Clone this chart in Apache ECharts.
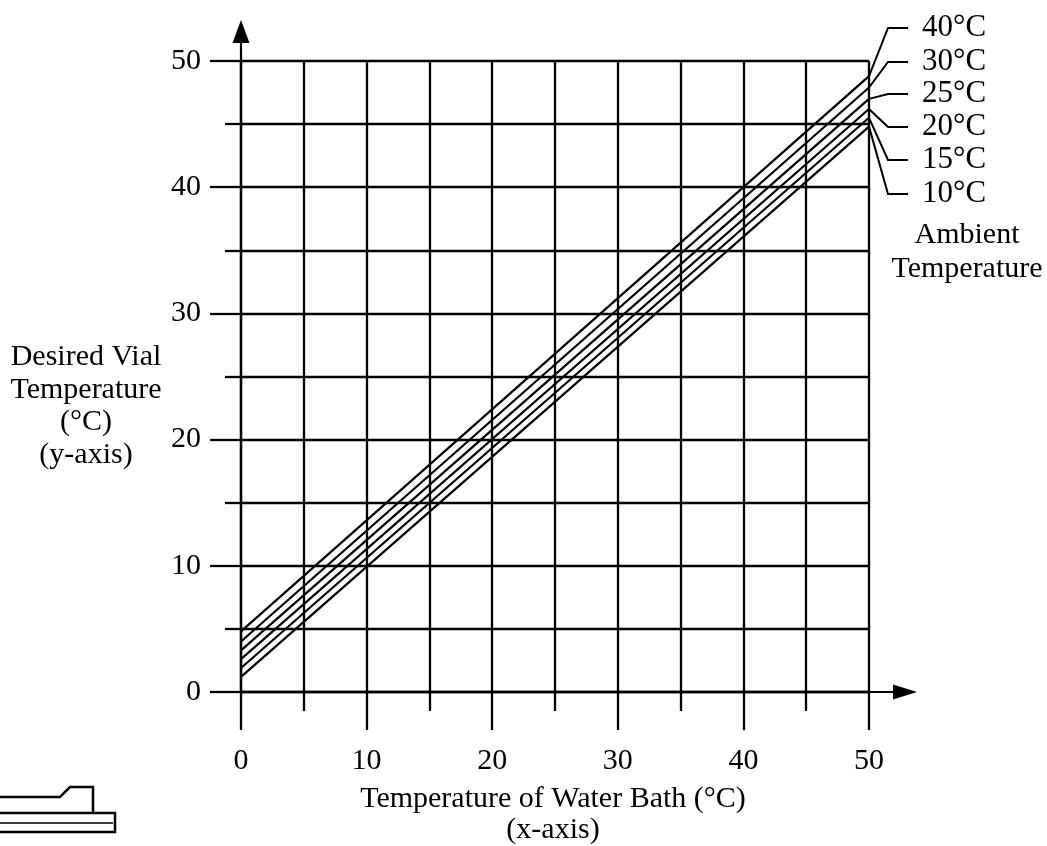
<!DOCTYPE html>
<html>
<head>
<meta charset="utf-8">
<script src="https://cdn.jsdelivr.net/npm/echarts@6/dist/echarts.min.js"></script>
<style>
html,body{margin:0;padding:0;background:#fff;}
#chart{width:1047px;height:846px;}
</style>
</head>
<body>
<div id="chart"></div>
<script>
// Ambient temperatures (series names) and line end values
const ambientLabels = ['40°C', '30°C', '25°C', '20°C', '15°C', '10°C'];
const bathX = [0, 50];
const vialAtBath0 = [4.8, 4.0, 3.3, 2.6, 1.9, 1.2];
const vialAtBath50 = [48.8, 47.9, 47.0, 46.2, 45.5, 44.8];
const xTicks = [0, 10, 20, 30, 40, 50];
const yTicks = [0, 10, 20, 30, 40, 50];

const FONT = '"Liberation Serif", "DejaVu Serif", serif';
const BLACK = '#000';

const chart = echarts.init(document.getElementById('chart'), null, {renderer: 'canvas'});

const series = ambientLabels.map((name, i) => ({
  name: name,
  type: 'line',
  showSymbol: false,
  symbol: 'none',
  silent: true,
  lineStyle: {color: BLACK, width: 2.2},
  data: bathX.map((x, j) => [x, j === 0 ? vialAtBath0[i] : vialAtBath50[i]])
}));

const LW = 2.3;

const option = {
  animation: false,
  backgroundColor: '#fff',
  grid: {left: 241, right: 178, top: 61, bottom: 154, containLabel: false},
  xAxis: {
    type: 'value', min: xTicks[0], max: xTicks[xTicks.length - 1], interval: 10,
    axisLine: {
      show: true, onZero: false,
      lineStyle: {color: BLACK, width: LW},
      symbol: ['none', 'path://M7.5,0 L15,24 L8.6,24 L8.6,48 L6.4,48 L6.4,24 L0,24 Z'],
      symbolSize: [15, 48], symbolOffset: [0, 24]
    },
    axisTick: {show: true, length: 38, lineStyle: {color: BLACK, width: LW}},
    minorTick: {show: true, splitNumber: 2, length: 19, lineStyle: {color: BLACK, width: LW}},
    splitLine: {show: true, lineStyle: {color: BLACK, width: LW}},
    minorSplitLine: {show: true, lineStyle: {color: BLACK, width: LW}},
    axisLabel: {color: BLACK, fontFamily: FONT, fontSize: 30, margin: 54}
  },
  yAxis: {
    type: 'value', min: yTicks[0], max: yTicks[yTicks.length - 1], interval: 10,
    axisLine: {
      show: true, onZero: false,
      lineStyle: {color: BLACK, width: LW},
      symbol: ['none', 'path://M8.5,0 L17,23 L9.6,23 L9.6,41 L7.4,41 L7.4,23 L0,23 Z'],
      symbolSize: [17, 41], symbolOffset: [0, 20.5]
    },
    axisTick: {show: true, length: 31, lineStyle: {color: BLACK, width: LW}},
    minorTick: {show: true, splitNumber: 2, length: 16, lineStyle: {color: BLACK, width: LW}},
    splitLine: {show: true, lineStyle: {color: BLACK, width: LW}},
    minorSplitLine: {show: true, lineStyle: {color: BLACK, width: LW}},
    axisLabel: {color: BLACK, fontFamily: FONT, fontSize: 30, margin: 40}
  },
  series: series
};
chart.setOption(option);

// Annotations: axis titles, ambient labels with leader lines, decorative sketch
const labelYs = [28, 62, 94, 127, 160, 194];
const graphics = [];
ambientLabels.forEach((name, i) => {
  const p = chart.convertToPixel({gridIndex: 0}, [bathX[1], vialAtBath50[i]]);
  graphics.push({
    type: 'polyline', silent: true,
    shape: {points: [[p[0], p[1]], [888, labelYs[i]], [908, labelYs[i]]]},
    style: {stroke: BLACK, lineWidth: 2, fill: null}
  });
  graphics.push({
    type: 'text', left: 922, top: labelYs[i] - 16, silent: true,
    style: {text: name, fill: BLACK, font: '31px ' + FONT}
  });
});
graphics.push({
  type: 'text', silent: true, x: 967, y: 218,
  style: {text: 'Ambient\nTemperature', fill: BLACK, font: '30px ' + FONT,
          textAlign: 'center', textVerticalAlign: 'top', lineHeight: 34}
});
graphics.push({
  type: 'text', silent: true, x: 86, y: 341,
  style: {text: 'Desired Vial\nTemperature\n(°C)\n(y-axis)', fill: BLACK, font: '30px ' + FONT,
          textAlign: 'center', textVerticalAlign: 'top', lineHeight: 32.5}
});
graphics.push({
  type: 'text', silent: true, x: 553, y: 784,
  style: {text: 'Temperature of Water Bath (°C)\n(x-axis)', fill: BLACK, font: '30px ' + FONT,
          textAlign: 'center', textVerticalAlign: 'top', lineHeight: 31}
});
// small decorative sketch at bottom-left
graphics.push({
  type: 'polyline', silent: true,
  shape: {points: [[0, 797], [60, 797], [70, 787], [93, 787], [93, 813]]},
  style: {stroke: BLACK, lineWidth: 2.5, fill: null}
});
graphics.push({
  type: 'polyline', silent: true,
  shape: {points: [[0, 813], [115, 813], [115, 832], [0, 832]]},
  style: {stroke: BLACK, lineWidth: 2.5, fill: null}
});
graphics.push({
  type: 'line', silent: true,
  shape: {x1: 0, y1: 823, x2: 113, y2: 823},
  style: {stroke: BLACK, lineWidth: 1.5}
});
chart.setOption({graphic: graphics});
</script>
</body>
</html>
